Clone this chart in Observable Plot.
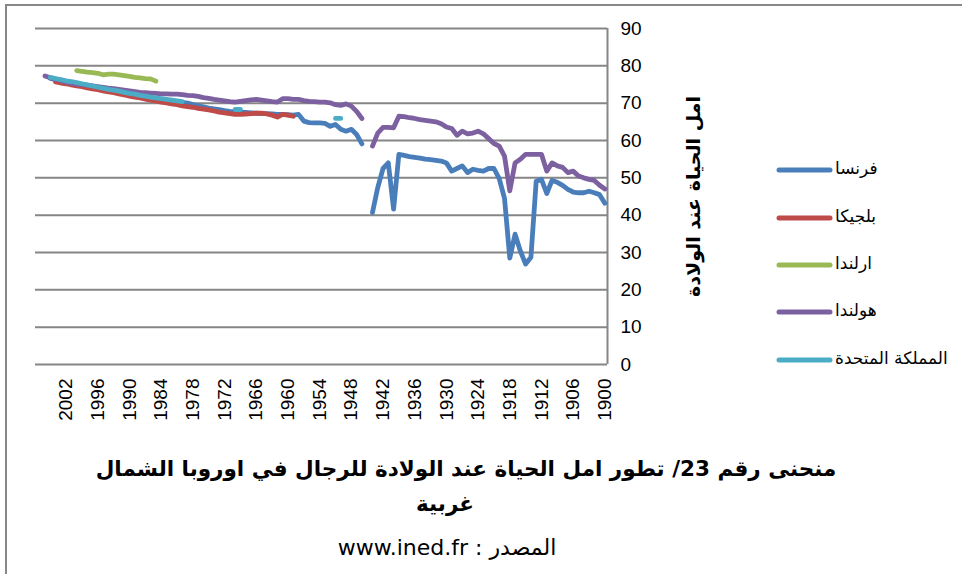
<!DOCTYPE html>
<html>
<head>
<meta charset="utf-8">
<script src="https://cdn.jsdelivr.net/npm/d3@7"></script>
<script src="https://cdn.jsdelivr.net/npm/@observablehq/plot@0.6"></script>
<style>
html, body { margin:0; padding:0; background:#fff; width:962px; height:574px; overflow:hidden; }
#wrap { position:relative; width:962px; height:574px; overflow:hidden; }
#border { position:absolute; left:5px; top:4px; width:1100px; height:800px; border:2px solid #888; box-sizing:border-box; }
#chart { position:absolute; left:0; top:0; }
.leg { position:absolute; left:776px; height:20px; }
.leg svg { position:absolute; left:0; top:0; }
.leg span { position:absolute; left:59px; top:-2px; font-family:"DejaVu Sans", sans-serif; font-size:17px; white-space:nowrap; color:#000; direction:rtl; unicode-bidi:plaintext; }
.title { position:absolute; font-family:"DejaVu Sans", sans-serif; color:#000; white-space:nowrap; direction:rtl; transform:translateX(-50%); }
</style>
</head>
<body>
<div id="wrap">
  <div id="border"></div>
  <div id="chart"></div>
  <div id="legend"></div>
  <div class="title" id="t1" style="left:466px; top:456px; font-size:21.5px; font-weight:bold;"></div>
  <div class="title" id="t2" style="left:445px; top:491px; font-size:21.5px; font-weight:bold;"></div>
  <div class="title" id="t3" style="left:447px; top:535px; font-size:22px;"></div>
</div>
<script>
// ---- data ----
const countries = ["فرنسا", "بلجيكا", "ارلندا", "هولندا", "المملكة المتحدة"];
const colors = ["#4A7EBB", "#BE4B48", "#98B954", "#7D60A0", "#4BACC6"];
const xTicks = [1900, 1906, 1912, 1918, 1924, 1930, 1936, 1942, 1948, 1954, 1960, 1966, 1972, 1978, 1984, 1990, 1996, 2002];
const yTicks = [0, 10, 20, 30, 40, 50, 60, 70, 80, 90];
const yTitle = "امل الحياة عند الولادة";
const title1 = "منحنى رقم 23/ تطور امل الحياة عند الولادة للرجال في اوروبا الشمال";
const title2 = "غربية";
const source = "المصدر : www.ined.fr";

// values for consecutive years, going backwards from the first year (null = no value)
const franceFrom = 2005;
const franceValues = [
  76.6, 76.3, 76.0, 75.7, 75.4, 75.1, 74.8, 74.5, 74.2, 73.9,
  73.7, 73.4, 73.1, 72.8, 72.5, 72.3, 72.1, 71.9, 71.6, 71.4,
  71.2, 71.0, 70.8, 70.6, 70.4, 70.2, 70.0, 69.6, 69.3, 69.0,
  68.7, 68.5, 68.3, 68.0, 67.8, 67.7, 67.6, 67.5, 67.4, 67.3,
  67.2, 67.2, 67.1, 67.0, 67.0, 66.9, 66.8, 67.0, 65.2, 64.8,
  64.7, 64.7, 64.6, 63.8, 64.3, 63.0, 62.5, 63.0, 61.6, 59.1,
  null,
  40.7, 47.4, 52.5, 54.0, 41.6, 56.3, 56.0, 55.7, 55.5, 55.3,
  55.0, 54.9, 54.7, 54.5, 54.0, 51.8, 52.5, 53.2, 51.4, 52.3,
  52.0, 51.8, 52.5, 52.5, 49.8, 44.5, 28.5, 34.9, 30.4, 26.9,
  28.7, 49.1, 49.6, 45.8, 49.3, 48.8, 48.0, 46.9, 46.2, 46.0,
  46.0, 46.4, 46.0, 45.5, 43.2
];
const belgiumFrom = 2004;
const belgiumValues = [
  75.7, 75.4, 75.2, 74.9, 74.6, 74.4, 74.1, 73.8, 73.6, 73.3,
  73.0, 72.8, 72.5, 72.2, 71.9, 71.6, 71.4, 71.1, 70.8, 70.6,
  70.3, 70.1, 69.8, 69.6, 69.3, 69.1, 68.9, 68.6, 68.4, 68.2,
  67.9, 67.6, 67.4, 67.2, 67.0, 67.0, 67.1, 67.2, 67.3, 67.3,
  67.1, 66.8, 66.3, 67.0, 66.8, 66.5
];
const irelandFrom = 2000;
const irelandValues = [
  78.7, 78.5, 78.3, 78.2, 78.0, 77.6, 77.8, 77.8, 77.6, 77.4,
  77.2, 76.9, 76.8, 76.6, 76.5, 75.9
];
const netherlandsFrom = 2006;
const netherlandsValues = [
  77.3, 76.8, 76.4, 76.0, 75.6, 75.3, 75.1, 75.0, 74.8, 74.6,
  74.4, 74.2, 74.0, 73.9, 73.7, 73.5, 73.3, 73.1, 72.9, 72.8,
  72.7, 72.6, 72.5, 72.5, 72.4, 72.4, 72.3, 72.1, 72.0, 71.8,
  71.5, 71.3, 71.0, 70.8, 70.6, 70.4, 70.3, 70.5, 70.7, 70.9,
  71.0, 70.8, 70.6, 70.4, 70.3, 71.2, 71.2, 71.0, 71.0, 70.7,
  70.5, 70.4, 70.3, 70.3, 70.1, 69.6, 69.4, 69.8, 69.2, 67.8,
  65.9,
  null,
  58.5, 62.0, 63.5, 63.5, 63.4, 66.5, 66.4, 66.1, 65.9, 65.6,
  65.4, 65.2, 65.0, 64.5, 63.6, 63.2, 61.4, 62.5, 61.8, 62.0,
  62.5, 61.8, 60.5, 59.2, 58.5, 55.8, 46.5, 54.0, 55.0, 56.3,
  56.3, 56.3, 56.3, 51.8, 54.0, 53.2, 52.8, 51.4, 51.8, 50.5,
  50.0, 49.6, 49.3, 48.0, 47.0
];
const ukFrom = 2005;
const ukValues = [
  76.9, 76.6, 76.3, 76.0, 75.8, 75.5, 75.2, 74.9, 74.6, 74.3,
  74.0, 73.7, 73.5, 73.2, 72.9, 72.6, 72.4, 72.1, 71.9, 71.6,
  71.4, 71.2, 71.0, 70.8, 70.6, 70.4,
  null, null, null, null, null, null, null, null, null,
  68.3, 68.3,
  null, null, null, null, null, null, null, null, null, null,
  null, null, null, null, null, null, null,
  65.9, 65.9
];

// ---- table ----
function rows(name, from, vals) {
  return vals.map((v, i) => ({ country: name, year: from - i, value: v == null ? NaN : v }));
}
const data = [
  ...rows(countries[0], franceFrom, franceValues),
  ...rows(countries[1], belgiumFrom, belgiumValues),
  ...rows(countries[2], irelandFrom, irelandValues),
  ...rows(countries[3], netherlandsFrom, netherlandsValues),
  ...rows(countries[4], ukFrom, ukValues)
];

const chart = Plot.plot({
  width: 962,
  height: 445,
  marginLeft: 35,
  marginRight: 355,
  marginTop: 28,
  marginBottom: 81,
  style: { fontFamily: "'Liberation Sans', Arial, sans-serif", fontSize: "19px", color: "#000", background: "transparent" },
  x: { domain: [2007.8, 1899.5], ticks: xTicks, tickFormat: d => String(d), tickRotate: -90, tickSize: 0, tickPadding: 14, label: null },
  y: { domain: [0, 90], ticks: yTicks, axis: "right", tickSize: 0, tickPadding: 13, label: null },
  color: { domain: countries, range: colors },
  marks: [
    Plot.ruleY(yTicks, { stroke: "#868686", strokeWidth: 2 }),
    Plot.ruleX([1899.5], { y1: 0, y2: 90, stroke: "#868686", strokeWidth: 2 }),
    Plot.line(data, { x: "year", y: "value", z: "country", stroke: "country", strokeWidth: 4.8, strokeLinecap: "round", strokeLinejoin: "round" }),
    Plot.text([yTitle], { text: d => d, frameAnchor: "right", textAnchor: "middle", dx: 86, rotate: -90, fontFamily: "'DejaVu Sans', sans-serif", fontWeight: "bold", fontSize: 19, fill: "#000" })
  ]
});
document.getElementById("chart").appendChild(chart);

// legend
const legTops = [160, 208, 255, 302, 350];
const legend = document.getElementById("legend");
countries.forEach((c, i) => {
  const d = document.createElement("div");
  d.className = "leg";
  d.style.top = legTops[i] + "px";
  d.innerHTML = `<svg width="60" height="20"><line x1="3" y1="10" x2="54" y2="10" stroke="${colors[i]}" stroke-width="5" stroke-linecap="round"/></svg><span>${c}</span>`;
  legend.appendChild(d);
});
document.getElementById("t1").textContent = title1;
document.getElementById("t2").textContent = title2;
document.getElementById("t3").textContent = source;
</script>
</body>
</html>
